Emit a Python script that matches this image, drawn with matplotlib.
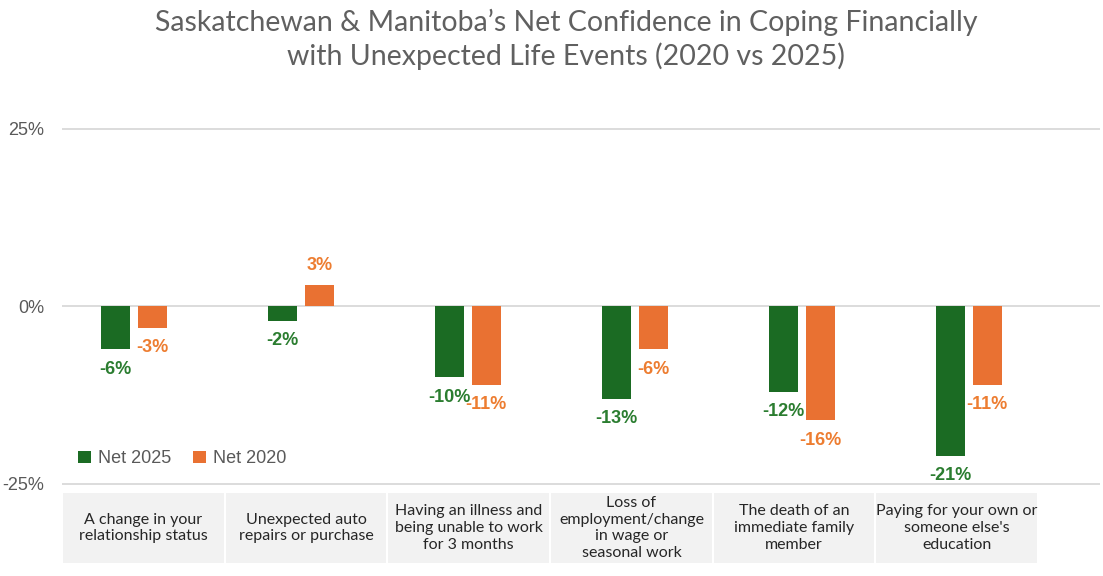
import matplotlib.pyplot as plt
from matplotlib.patches import Rectangle
import numpy as np

# data
categories = ["A change in your\nrelationship status",
              "Unexpected auto\nrepairs or purchase",
              "Having an illness and\nbeing unable to work\nfor 3 months",
              "Loss of\nemployment/change\nin wage or\nseasonal work",
              "The death of an\nimmediate family\nmember",
              "Paying for your own or\nsomeone else's\neducation"]
net_2025 = [-6, -2, -10, -13, -12, -21]
net_2020 = [-3, 3, -11, -6, -16, -11]
yticks = [-25, 0, 25]

green = '#1b6b23'
orange = '#e97132'
green_txt = '#2b7d30'
orange_txt = '#ed7d31'
grey = '#595959'

fig = plt.figure(figsize=(11.03, 5.76), dpi=100)

fig.text(0.513, 0.961, "Saskatchewan & Manitoba\u2019s Net Confidence in Coping Financially",
         ha='center', va='center', fontsize=20.5, color='#606060', family='Lato')
fig.text(0.513, 0.903, "with Unexpected Life Events (2020 vs 2025)",
         ha='center', va='center', fontsize=20.5, color='#606060', family='Lato')

# main axes
ax = fig.add_axes([0.0562, 0.1474, 0.941, 0.641])
x = np.arange(len(categories))
w = 0.175
off = 0.11
b1 = ax.bar(x - off, np.array(net_2025) / 100, w, color=green, label='Net 2025', zorder=3)
b2 = ax.bar(x + off, np.array(net_2020) / 100, w, color=orange, label='Net 2020', zorder=3)

for bars, vals, c in [(b1, net_2025, green_txt), (b2, net_2020, orange_txt)]:
    for r, v in zip(bars, vals):
        cx = r.get_x() + r.get_width() / 2
        sign = 1 if v >= 0 else -1
        ax.annotate(f"{v}%", (cx, v / 100), xytext=(0, sign * 14.5), textcoords='offset points',
                    ha='center', va='center', fontsize=13, fontweight='bold', color=c,
                    family='Liberation Sans', zorder=5, annotation_clip=False)

ax.set_xlim(-0.431, 5.784)
ax.set_ylim(-0.26, 0.26)
ax.set_yticks([t / 100 for t in yticks])
ax.set_yticklabels([f"{t}%" for t in yticks], fontsize=13, color=grey, family='Liberation Sans')
ax.tick_params(axis='y', length=0, pad=13)
ax.set_xticks([])
ax.yaxis.grid(True, color='#d9d9d9', lw=1.3)
ax.set_axisbelow(True)
for s in ax.spines.values():
    s.set_visible(False)

leg = ax.legend(loc='lower left', bbox_to_anchor=(0.0, 0.02), ncol=2, frameon=False,
                prop={'family': 'Liberation Sans', 'size': 13}, handlelength=0.7,
                handleheight=0.7, handletextpad=0.4, columnspacing=1.2)
for t in leg.get_texts():
    t.set_color(grey)

# category label boxes
tax = fig.add_axes([0.0562, 0.0226, 0.885, 0.1215])
tax.set_xlim(0, len(categories))
tax.set_ylim(0, 1)
tax.axis('off')
for i, lab in enumerate(categories):
    tax.add_patch(Rectangle((i + 0.006, 0), 0.988, 1, color='#f2f2f2', lw=0))
    tax.text(i + 0.5, 0.5, lab, ha='center', va='center', fontsize=11.5, color='#262626',
             family='Lato', linespacing=1.27, clip_on=True)

fig.savefig('out.png', dpi=100)
